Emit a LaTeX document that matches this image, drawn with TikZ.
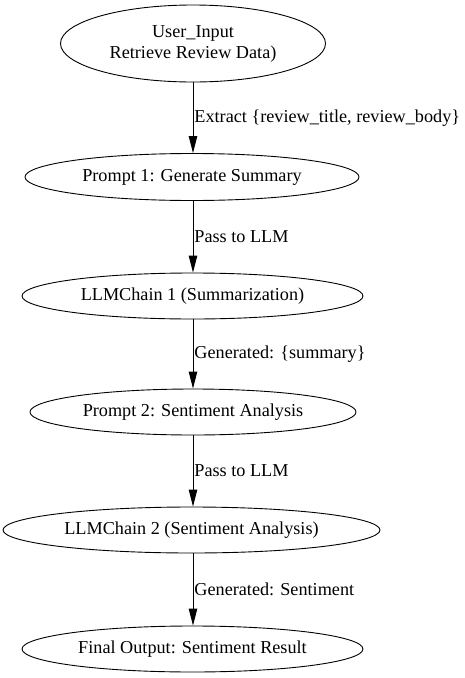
\documentclass[tikz,border=0pt]{standalone}
\usepackage{fontspec}
\setmainfont{Liberation Serif}
\usetikzlibrary{shapes.geometric,arrows.meta}
\begin{document}
\begin{tikzpicture}[x=1pt,y=-1pt,
  every node/.style={font=\fontsize{18.2}{22}\selectfont},
  flownode/.style={draw,ellipse,inner sep=0pt,line width=0.9pt,align=center},
  flowedge/.style={draw,line width=0.9pt,-{Triangle[length=17pt,width=8.5pt]}},
  edgelabel/.style={right,inner sep=1pt,midway}]
\useasboundingbox (0,0) rectangle (464,678);
\coordinate (axis) at (193,0);
\node[flownode,minimum width=265pt,minimum height=77pt] (n1) at (193,43.5) {User\_Input\\[-1pt]Retrieve Review Data)};
\node[flownode,minimum width=334pt,minimum height=47pt] (n2) at (192,177) {Prompt 1: Generate Summary};
\node[flownode,minimum width=341pt,minimum height=46pt] (n3) at (192.5,296) {LLMChain 1 (Summarization)};
\node[flownode,minimum width=326pt,minimum height=46pt] (n4) at (193,412) {Prompt 2: Sentiment Analysis};
\node[flownode,minimum width=377pt,minimum height=46pt] (n5) at (191.5,530) {LLMChain 2 (Sentiment Analysis)};
\node[flownode,minimum width=341pt,minimum height=46pt] (n6) at (192.5,649) {Final Output: Sentiment Result};
\draw[flowedge] (n1.south -| axis) -- node[edgelabel] {Extract \{review\_title, review\_body\}} (n2.north -| axis);
\draw[flowedge] (n2.south -| axis) -- node[edgelabel] {Pass to LLM} (n3.north -| axis);
\draw[flowedge] (n3.south -| axis) -- node[edgelabel] {Generated: \{summary\}} (n4.north -| axis);
\draw[flowedge] (n4.south -| axis) -- node[edgelabel] {Pass to LLM} (n5.north -| axis);
\draw[flowedge] (n5.south -| axis) -- node[edgelabel] {Generated: Sentiment} (n6.north -| axis);
\end{tikzpicture}
\end{document}
